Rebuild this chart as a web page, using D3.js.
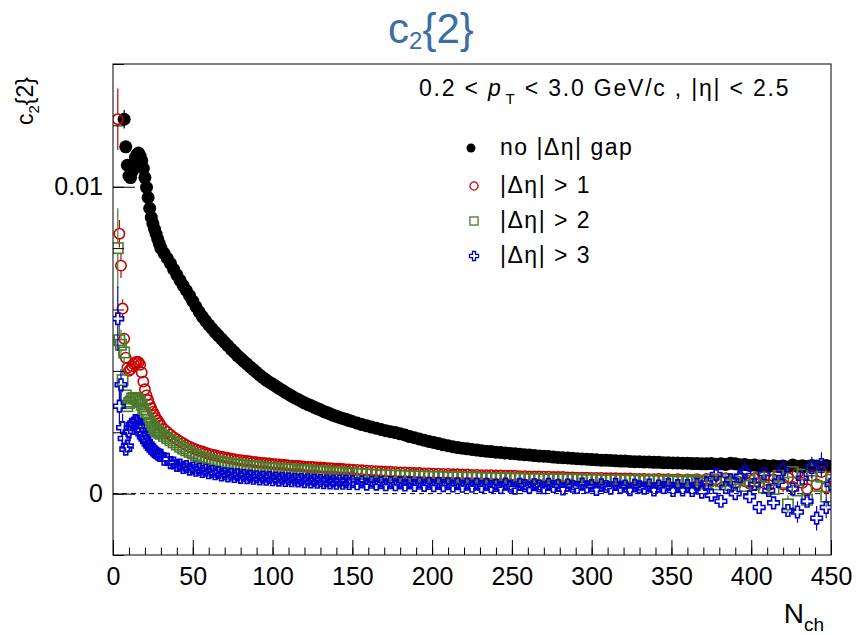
<!DOCTYPE html>
<html>
<head>
<meta charset="utf-8">
<script src="https://cdn.jsdelivr.net/npm/d3@7"></script>
<style>
  body { margin: 0; background: #fff; }
  svg { font-family: "Liberation Sans", Arial, Helvetica, sans-serif; }
</style>
</head>
<body>
<svg id="chart" width="856" height="635"></svg>
<script>
// c2{2} vs Nch, four eta-gap selections. Values in units of 1e-3.

const nch = [
  3, 4, 5, 6, 7, 8, 9, 10, 11, 12, 13, 14, 15, 16, 17, 18, 19, 20, 21, 22, 23, 24, 25, 26, 27, 28, 29,
  30, 32, 34, 36, 38, 40, 42, 44, 46, 48,
  50, 52, 54, 56, 58, 60, 62, 64, 66, 68,
  70, 72, 74, 76, 78, 80, 82, 84, 86, 88,
  90, 92, 94, 96, 98, 100, 102, 104, 106, 108,
  110, 112, 114, 116, 118, 120, 122, 124, 126, 128,
  130, 132, 134, 136, 138, 140, 142, 144, 146, 148,
  150, 153, 156, 159, 162, 165, 168, 171, 174, 177,
  180, 183, 186, 189, 192, 195, 198, 201, 204, 207,
  210, 213, 216, 219, 222, 225, 228, 231, 234, 237,
  240, 243, 246, 249, 252, 255, 258, 261, 264, 267,
  270, 273, 276, 279, 282, 285, 288, 291, 294, 297,
  300, 303, 306, 309, 312, 315, 318, 321, 324, 327,
  330, 333, 336, 339, 342, 345, 348, 351, 354, 357,
  360, 363, 366, 369, 372, 375, 378, 381, 384, 387,
  390, 393, 396, 399, 402, 405, 408, 411, 414, 417,
  420, 423, 426, 429, 432, 435, 438, 441, 444, 447,
  450
];

// no |d-eta| gap
const noGap = [
  null, null, null, null, 12.2, 11.3, 10.7, 10.35, 10.3, 10.5, 10.75, 10.95, 11.05, 11.1, 11.0, 10.85, 10.6, 10.3, 9.98, 9.65, 9.3, 9.0, 8.8, 8.62, 8.46, 8.3, 8.15,
  8.00, 7.83, 7.67, 7.50, 7.31, 7.13, 6.95, 6.78, 6.62, 6.45,
  6.27, 6.09, 5.92, 5.77, 5.63, 5.50, 5.38, 5.26, 5.15, 5.04,
  4.93, 4.82, 4.71, 4.61, 4.50, 4.41, 4.31, 4.22, 4.13, 4.04,
  3.95, 3.86, 3.78, 3.70, 3.63, 3.57, 3.50, 3.43, 3.37, 3.30,
  3.24, 3.18, 3.12, 3.07, 3.01, 2.96, 2.91, 2.87, 2.82, 2.77,
  2.73, 2.68, 2.64, 2.60, 2.55, 2.52, 2.48, 2.45, 2.42, 2.38,
  2.35, 2.30, 2.25, 2.21, 2.17, 2.13, 2.09, 2.05, 2.02, 1.99,
  1.95, 1.91, 1.86, 1.82, 1.78, 1.74, 1.70, 1.67, 1.63, 1.59,
  1.56, 1.53, 1.50, 1.48, 1.46, 1.44, 1.42, 1.40, 1.38, 1.37,
  1.35, 1.34, 1.32, 1.31, 1.30, 1.28, 1.27, 1.26, 1.24, 1.23,
  1.22, 1.21, 1.19, 1.18, 1.17, 1.16, 1.15, 1.14, 1.13, 1.12,
  1.11, 1.10, 1.09, 1.09, 1.08, 1.07, 1.06, 1.06, 1.05, 1.04,
  1.04, 1.03, 1.03, 1.02, 1.02, 1.01, 1.01, 1.00, 1.00, 0.99,
  0.99, 0.98, 0.98, 0.97, 0.97, 0.98, 0.96, 0.97, 0.95, 0.99,
  0.97, 0.94, 0.95, 0.92, 0.93, 0.90, 0.92, 0.89, 0.91, 0.88,
  0.90, 0.87, 0.93, 0.89, 0.91, 0.88, 0.92, 0.90, 0.87, 0.92,
  0.89
];

// |d-eta| > 1
const gap1 = [
  12.2, 8.47, 7.43, 6.03, 5.05, 4.43, 4.1, 4.0, 4.05, 4.15, 4.22, 4.27, 4.3, 4.28, 4.2, 3.95, 3.65, 3.4, 3.2, 3.05, 2.9, 2.78, 2.66, 2.56, 2.46, 2.38, 2.3,
  2.22, 2.10, 2.01, 1.92, 1.84, 1.77, 1.70, 1.64, 1.58, 1.53,
  1.48, 1.44, 1.40, 1.37, 1.33, 1.30, 1.27, 1.25, 1.22, 1.20,
  1.18, 1.16, 1.14, 1.12, 1.10, 1.09, 1.07, 1.06, 1.05, 1.03,
  1.02, 1.01, 1.00, 0.99, 0.98, 0.97, 0.96, 0.95, 0.94, 0.93,
  0.92, 0.91, 0.90, 0.90, 0.89, 0.88, 0.87, 0.87, 0.86, 0.85,
  0.85, 0.84, 0.83, 0.83, 0.82, 0.81, 0.81, 0.80, 0.79, 0.79,
  0.78, 0.77, 0.76, 0.75, 0.74, 0.73, 0.72, 0.71, 0.71, 0.70,
  0.69, 0.69, 0.68, 0.67, 0.67, 0.66, 0.66, 0.65, 0.65, 0.64,
  0.64, 0.63, 0.63, 0.62, 0.62, 0.61, 0.61, 0.60, 0.60, 0.60,
  0.59, 0.59, 0.58, 0.58, 0.58, 0.57, 0.57, 0.56, 0.56, 0.56,
  0.55, 0.55, 0.54, 0.54, 0.54, 0.53, 0.53, 0.52, 0.52, 0.52,
  0.51, 0.51, 0.51, 0.50, 0.50, 0.50, 0.49, 0.49, 0.49, 0.48,
  0.48, 0.48, 0.47, 0.47, 0.48, 0.46, 0.47, 0.45, 0.47, 0.44,
  0.46, 0.43, 0.47, 0.42, 0.48, 0.40, 0.46, 0.38, 0.50, 0.41,
  0.36, 0.52, 0.40, 0.33, 0.49, 0.35, 0.56, 0.28, 0.45, 0.60,
  0.30, 0.52, 0.22, 0.66, 0.35, 0.15, 0.58, 0.30, 0.70, 0.20,
  0.55
];

// |d-eta| > 2
const gap2 = [
  8.0, 5.0, 4.85, 3.7, 4.6, 3.2, 2.85, 2.95, 3.0, 3.1, 3.12, 3.1, 3.08, 3.05, 3.0, 2.9, 2.75, 2.62, 2.5, 2.4, 2.32, 2.24, 2.17, 2.11, 2.06, 2.02, 1.98,
  1.95, 1.88, 1.81, 1.74, 1.67, 1.60, 1.53, 1.47, 1.41, 1.36,
  1.31, 1.26, 1.21, 1.18, 1.15, 1.12, 1.09, 1.07, 1.05, 1.03,
  1.01, 0.99, 0.98, 0.96, 0.95, 0.94, 0.92, 0.91, 0.90, 0.89,
  0.88, 0.87, 0.86, 0.85, 0.84, 0.83, 0.82, 0.81, 0.81, 0.80,
  0.79, 0.79, 0.78, 0.77, 0.77, 0.76, 0.75, 0.75, 0.74, 0.73,
  0.73, 0.72, 0.71, 0.71, 0.70, 0.69, 0.69, 0.68, 0.67, 0.67,
  0.66, 0.65, 0.64, 0.63, 0.62, 0.61, 0.60, 0.60, 0.59, 0.59,
  0.58, 0.58, 0.57, 0.57, 0.56, 0.56, 0.55, 0.55, 0.55, 0.54,
  0.54, 0.53, 0.53, 0.53, 0.52, 0.52, 0.52, 0.51, 0.51, 0.51,
  0.50, 0.50, 0.50, 0.49, 0.49, 0.49, 0.48, 0.48, 0.48, 0.48,
  0.47, 0.47, 0.47, 0.47, 0.46, 0.46, 0.46, 0.46, 0.45, 0.45,
  0.45, 0.45, 0.44, 0.44, 0.44, 0.44, 0.43, 0.43, 0.43, 0.43,
  0.42, 0.42, 0.42, 0.43, 0.41, 0.42, 0.40, 0.43, 0.39, 0.42,
  0.38, 0.44, 0.36, 0.42, 0.33, 0.45, 0.30, 0.40, 0.47, 0.28,
  0.38, 0.48, 0.25, 0.42, 0.30, 0.52, 0.20, 0.44, 0.15, 0.58,
  0.35, -0.35, 0.70, 0.10, 0.62, -0.20, 0.75, 0.25, 0.55, -0.10,
  0.45
];

// |d-eta| > 3
const gap3 = [
  5.7, 2.85, 3.55, 2.15, 1.8, 1.45, 1.55, 2.0, 2.15, 2.25, 2.3, 2.38, 2.35, 2.2, 2.05, 1.95, 1.85, 1.78, 1.7, 1.62, 1.55, 1.48, 1.42, 1.37, 1.33, 1.29, 1.26,
  1.25, 1.12, 1.12, 1.01, 1.00, 0.92, 0.93, 0.85, 0.88, 0.80,
  0.83, 0.76, 0.79, 0.72, 0.76, 0.68, 0.72, 0.65, 0.69, 0.61,
  0.65, 0.58, 0.63, 0.56, 0.61, 0.53, 0.59, 0.52, 0.57, 0.50,
  0.55, 0.48, 0.54, 0.47, 0.53, 0.45, 0.51, 0.44, 0.50, 0.43,
  0.48, 0.42, 0.47, 0.41, 0.46, 0.39, 0.45, 0.38, 0.44, 0.37,
  0.43, 0.36, 0.42, 0.35, 0.41, 0.34, 0.41, 0.34, 0.40, 0.33,
  0.39, 0.32, 0.38, 0.31, 0.37, 0.31, 0.36, 0.29, 0.36, 0.29,
  0.35, 0.28, 0.35, 0.27, 0.34, 0.27, 0.33, 0.26, 0.33, 0.26,
  0.32, 0.25, 0.32, 0.24, 0.31, 0.24, 0.31, 0.23, 0.30, 0.23,
  0.27, 0.20, 0.31, 0.24, 0.18, 0.30, 0.26, 0.21, 0.29, 0.25,
  0.19, 0.30, 0.23, 0.27, 0.15, 0.28, 0.24, 0.20, 0.31, 0.22,
  0.26, 0.14, 0.29, 0.23, 0.18, 0.30, 0.21, 0.25, 0.13, 0.27,
  0.22, 0.18, 0.28, 0.12, 0.25, 0.20, 0.30, 0.10, 0.26, 0.12,
  0.26, 0.10, 0.30, 0.05, 0.35, -0.05, 0.62, -0.25, 0.20, 0.45,
  0.00, 0.55, 0.72, -0.10, 0.30, -0.45, 0.65, 0.10, -0.30, 0.40,
  0.78, -0.55, 0.15, -0.60, 0.50, -0.25, 0.85, -0.80, 0.95, -0.45,
  0.30
];

// visible error bars: [Nch, error]
const noGapErr = [[7, 0.3]];
const gap1Err = [[3, 1.0], [4, 0.45], [5, 0.4], [6, 0.3], [405, 0.2], [420, 0.25], [435, 0.3], [447, 0.3]];
const gap2Err = [[3, 1.3], [4, 0.6], [5, 0.5], [6, 0.4], [7, 0.35], [423, 0.3], [438, 0.3], [447, 0.35]];
const gap3Err = [[3, 1.05], [4, 0.6], [5, 0.5], [6, 0.45], [7, 0.4], [378, 0.25], [396, 0.3], [420, 0.3],
                 [429, 0.35], [438, 0.35], [441, 0.4], [444, 0.4], [447, 0.35]];

const labels = ["no |\u0394\u03b7| gap", "|\u0394\u03b7| > 1", "|\u0394\u03b7| > 2", "|\u0394\u03b7| > 3"];
const unit = 1e-3;

// ---- layout ----
const svg = d3.select("#chart");
const frame = { left: 113, right: 831, top: 64, bottom: 555 };

const x = d3.scaleLinear().domain([0, 450]).range([frame.left, frame.right]);
const y = d3.scaleLinear().domain([-0.002, 0.014]).range([frame.bottom, frame.top]);

const series = [
  { vals: noGap, err: noGapErr, color: "#000000", shape: "dot" },
  { vals: gap1, err: gap1Err, color: "#c80000", shape: "circle" },
  { vals: gap2, err: gap2Err, color: "#4b7a2c", shape: "square" },
  { vals: gap3, err: gap3Err, color: "#0000d0", shape: "cross" }
];

// marker drawing helper
function crossPath(a, b) {
  return `M${-b},${-a}L${b},${-a}L${b},${-b}L${a},${-b}L${a},${b}L${b},${b}L${b},${a}` +
         `L${-b},${a}L${-b},${b}L${-a},${b}L${-a},${-b}L${-b},${-b}Z`;
}
function drawMarker(g, shape, color, s, sw) {
  if (shape === "dot") {
    g.append("circle").attr("r", s * 0.5).attr("fill", color);
  } else if (shape === "circle") {
    g.append("circle").attr("r", s * 0.45).attr("fill", "none")
      .attr("stroke", color).attr("stroke-width", sw);
  } else if (shape === "square") {
    g.append("rect").attr("x", -s * 0.45).attr("y", -s * 0.45)
      .attr("width", s * 0.9).attr("height", s * 0.9)
      .attr("fill", "none").attr("stroke", color).attr("stroke-width", sw);
  } else {
    g.append("path").attr("d", crossPath(s * 0.5, s * 0.17))
      .attr("fill", "none").attr("stroke", color).attr("stroke-width", sw);
  }
}

// clip to frame
svg.append("defs").append("clipPath").attr("id", "plotClip")
  .append("rect").attr("x", frame.left).attr("y", frame.top)
  .attr("width", frame.right - frame.left).attr("height", frame.bottom - frame.top);

// zero line
svg.append("line")
  .attr("x1", x(0)).attr("x2", x(450))
  .attr("y1", y(0)).attr("y2", y(0))
  .attr("stroke", "#000").attr("stroke-width", 1)
  .attr("stroke-dasharray", "5,4");

const plot = svg.append("g").attr("clip-path", "url(#plotClip)");

series.forEach(s => {
  const grp = plot.append("g");
  const gapHalf = 5;
  // error bars, with a gap where the marker sits
  s.err.forEach(([n, e]) => {
    const i = nch.indexOf(n);
    const v = s.vals[i];
    if (v == null) return;
    const cx = x(n), cy = y(v * unit);
    grp.append("line").attr("x1", cx).attr("x2", cx)
      .attr("y1", y((v + e) * unit)).attr("y2", cy - gapHalf)
      .attr("stroke", s.color).attr("stroke-width", 1.2);
    grp.append("line").attr("x1", cx).attr("x2", cx)
      .attr("y1", cy + gapHalf).attr("y2", y((v - e) * unit))
      .attr("stroke", s.color).attr("stroke-width", 1.2);
  });
  nch.forEach((n, i) => {
    const v = s.vals[i];
    if (v == null) return;
    const m = grp.append("g")
      .attr("transform", `translate(${x(n)},${y(v * unit)})`);
    drawMarker(m, s.shape, s.color, s.shape === "dot" ? 13 : 11.5, 1.6);
  });
});

// ---- axes (ROOT style ticks inside the frame) ----
svg.append("g")
  .attr("transform", `translate(0,${frame.bottom})`)
  .call(d3.axisBottom(x).tickValues(d3.range(0, 451, 50))
    .tickSizeInner(-15).tickSizeOuter(0).tickPadding(12).tickFormat(d3.format("d")));
svg.append("g")
  .attr("transform", `translate(0,${frame.bottom})`)
  .call(d3.axisBottom(x).tickValues(d3.range(0, 451, 10))
    .tickSizeInner(-7.5).tickSizeOuter(0).tickFormat(""));

svg.append("g")
  .attr("transform", `translate(${frame.left},0)`)
  .call(d3.axisLeft(y).tickValues([0, 0.01])
    .tickSizeInner(-22).tickSizeOuter(0).tickPadding(10).tickFormat(d3.format("~g")));
svg.append("g")
  .attr("transform", `translate(${frame.left},0)`)
  .call(d3.axisLeft(y).tickValues(y.ticks(8))
    .tickSizeInner(-11).tickSizeOuter(0).tickFormat(""));

svg.selectAll(".domain").remove();
svg.selectAll(".tick line").attr("stroke", "#000").attr("stroke-width", 1);
svg.selectAll(".tick text")
  .attr("font-size", 25).attr("fill", "#000")
  .attr("font-family", "'Liberation Sans', Arial, sans-serif");

// frame
svg.append("rect")
  .attr("x", frame.left).attr("y", frame.top)
  .attr("width", frame.right - frame.left).attr("height", frame.bottom - frame.top)
  .attr("fill", "none").attr("stroke", "#000").attr("stroke-width", 1);

// ---- titles ----
const title = svg.append("text")
  .attr("x", 431).attr("y", 43)
  .attr("text-anchor", "middle")
  .attr("font-size", 42).attr("fill", "#3d6cab");
title.append("tspan").text("c");
title.append("tspan").attr("dy", 6).attr("font-size", 24).text("2");
title.append("tspan").attr("dy", -6).text("{2}");

const yTitle = svg.append("text")
  .attr("transform", "translate(33,101) rotate(-90)")
  .attr("text-anchor", "middle")
  .attr("font-size", 23);
yTitle.append("tspan").text("c");
yTitle.append("tspan").attr("dy", 6).attr("font-size", 15).text("2");
yTitle.append("tspan").attr("dy", -6).text("{2}");

const xTitle = svg.append("text")
  .attr("x", 824).attr("y", 623)
  .attr("text-anchor", "end")
  .attr("font-size", 28);
xTitle.append("tspan").text("N");
xTitle.append("tspan").attr("dy", 8).attr("font-size", 19).text("ch");

// ---- legend ----
const head = svg.append("text")
  .attr("x", 419).attr("y", 96)
  .attr("font-size", 23).attr("letter-spacing", 1.8);
head.append("tspan").text("0.2 < ");
head.append("tspan").attr("font-style", "italic").text("p");
head.append("tspan").attr("dy", 8).attr("dx", 3).attr("font-size", 15).text("T");
head.append("tspan").attr("dy", -8).text(" < 3.0 GeV/c , |\u03b7| < 2.5");

const legY = [148, 186, 221, 256];
series.forEach((s, i) => {
  const m = svg.append("g").attr("transform", `translate(${i === 0 ? 471 : 474},${legY[i]})`);
  drawMarker(m, s.shape, s.color, 9, 1.3);
  svg.append("text")
    .attr("x", 500).attr("y", legY[i] + 7)
    .attr("font-size", 23).attr("letter-spacing", 1.5)
    .text(labels[i]);
});
</script>
</body>
</html>
